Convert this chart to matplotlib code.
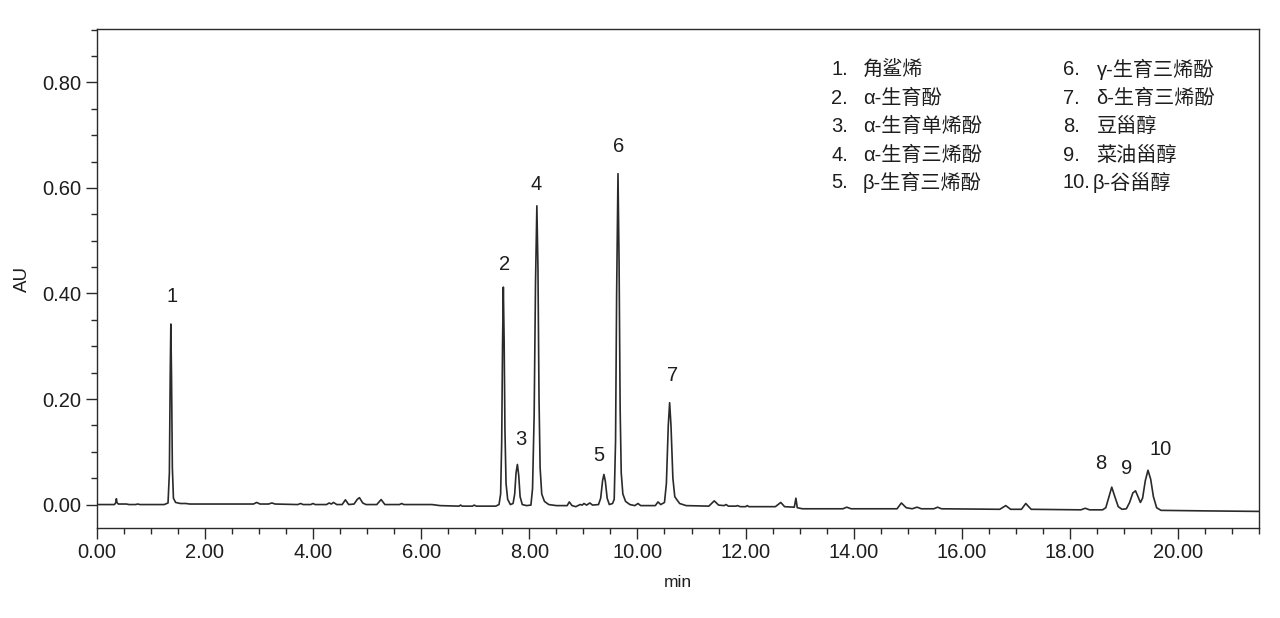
import matplotlib
matplotlib.use("Agg")
import matplotlib.pyplot as plt
from matplotlib.ticker import MultipleLocator, FormatStrFormatter

# chromatogram trace, vertices (min, AU)
trace_min = [
    0.00, 0.33, 0.355, 0.365, 0.375, 0.40, 0.55, 0.60, 0.72, 0.76, 0.80,
    1.25, 1.32, 1.345, 1.36, 1.372, 1.385, 1.40, 1.42, 1.46, 1.55, 1.65, 1.72,
    2.90, 2.96, 3.02, 3.18, 3.24, 3.30, 3.72, 3.77, 3.82, 3.96, 4.00, 4.04,
    4.25, 4.30, 4.34, 4.38, 4.44, 4.54, 4.60, 4.66, 4.76, 4.82, 4.86, 4.92,
    4.98, 5.18, 5.26, 5.33, 5.60, 5.64, 5.68, 6.20, 6.35, 6.70, 6.73, 6.76,
    6.95, 6.98, 7.02, 7.38,
    7.44, 7.47, 7.49, 7.505, 7.52, 7.535, 7.55, 7.57, 7.60, 7.65,
    7.70, 7.73, 7.755, 7.78, 7.805, 7.83, 7.87, 7.95,
    8.03, 8.06, 8.09, 8.115, 8.14, 8.16, 8.18, 8.20, 8.23, 8.28, 8.36, 8.50,
    8.70, 8.74, 8.79, 8.86, 8.94, 8.98, 9.01, 9.06, 9.12, 9.17, 9.28,
    9.32, 9.355, 9.38, 9.405, 9.44, 9.48, 9.54,
    9.57, 9.595, 9.615, 9.64, 9.66, 9.68, 9.70, 9.73, 9.78, 9.86, 9.95,
    10.01, 10.06, 10.33, 10.38, 10.43, 10.50,
    10.535, 10.57, 10.595, 10.62, 10.655, 10.69, 10.73, 10.78, 10.90,
    11.32, 11.42, 11.50, 11.60, 11.64, 11.68, 11.82, 11.85, 11.90, 12.00,
    12.03, 12.06, 12.55, 12.65, 12.72, 12.90, 12.93, 12.955, 13.05, 13.40,
    13.80, 13.87, 13.95, 14.80, 14.88, 14.97, 15.08, 15.17, 15.25, 15.48,
    15.55, 15.62, 16.70, 16.81, 16.90, 17.10, 17.18, 17.28, 18.20, 18.28,
    18.36, 18.60,
    18.66, 18.71, 18.77, 18.83, 18.89, 18.96, 19.04,
    19.10, 19.16, 19.21, 19.26, 19.30,
    19.34, 19.39, 19.44, 19.49, 19.54, 19.60, 19.68, 20.50, 21.50,
]
trace_au = [
    0.000, 0.000, 0.004, 0.011, 0.004, 0.001, 0.001, 0.000, 0.000, 0.001, 0.000,
    0.000, 0.003, 0.060, 0.240, 0.342, 0.240, 0.070, 0.012, 0.004, 0.002, 0.002, 0.001,
    0.001, 0.004, 0.001, 0.001, 0.003, 0.001, 0.000, 0.002, 0.000, 0.000, 0.002, 0.000,
    0.000, 0.003, 0.001, 0.004, 0.000, 0.000, 0.009, 0.000, 0.001, 0.010, 0.013, 0.003,
    0.000, 0.000, 0.0095, 0.000, 0.000, 0.002, 0.000, 0.000, -0.002, -0.003, -0.001, -0.003,
    -0.003, -0.001, -0.003, -0.003,
    0.000, 0.020, 0.120, 0.300, 0.412, 0.310, 0.140, 0.040, 0.010, 0.000,
    0.002, 0.020, 0.060, 0.076, 0.055, 0.015, 0.000, -0.002,
    -0.001, 0.030, 0.170, 0.420, 0.566, 0.450, 0.200, 0.070, 0.020, 0.006, 0.000, -0.002,
    -0.002, 0.005, -0.002, -0.004, 0.000, -0.001, 0.002, -0.001, 0.003, -0.001, 0.000,
    0.012, 0.045, 0.057, 0.045, 0.012, 0.000, 0.002,
    0.010, 0.120, 0.400, 0.627, 0.460, 0.180, 0.060, 0.020, 0.006, 0.000, -0.002,
    0.002, -0.002, -0.002, 0.005, 0.000, 0.004,
    0.040, 0.150, 0.193, 0.150, 0.050, 0.015, 0.009, 0.002, -0.002,
    -0.003, 0.007, -0.001, -0.002, 0.000, -0.003, -0.003, -0.002, -0.004, -0.004,
    -0.002, -0.004, -0.004, 0.004, -0.004, -0.005, 0.012, -0.006, -0.008, -0.008,
    -0.008, -0.005, -0.008, -0.008, 0.003, -0.006, -0.008, -0.005, -0.008, -0.008,
    -0.005, -0.008, -0.009, -0.002, -0.009, -0.009, 0.002, -0.009, -0.010, -0.007,
    -0.010, -0.010,
    -0.006, 0.012, 0.033, 0.014, -0.004, -0.009, -0.008,
    0.004, 0.022, 0.026, 0.014, 0.004,
    0.012, 0.045, 0.065, 0.048, 0.015, -0.006, -0.011, -0.012, -0.013,
]

peak_labels = ["1", "2", "3", "4", "5", "6", "7", "8", "9", "10"]
peak_label_x = [1.40, 7.54, 7.84, 8.12, 9.29, 9.65, 10.65, 18.56, 19.04, 19.67]
peak_label_y = [0.395, 0.454, 0.123, 0.606, 0.093, 0.678, 0.244, 0.078, 0.069, 0.105]

legend_nums = ["1.", "2.", "3.", "4.", "5.", "6.", "7.", "8.", "9.", "10."]
legend_names = [
    "角鲨烯", "α-生育酚", "α-生育单烯酚", "α-生育三烯酚", "β-生育三烯酚",
    "γ-生育三烯酚", "δ-生育三烯酚", "豆甾醇", "菜油甾醇", "β-谷甾醇",
]

fonts = ["Liberation Sans", "Noto Sans CJK SC", "DejaVu Sans"]
plt.rcParams["font.family"] = fonts

ink = "#2a2a2a"
txt = "#1e1e1e"

fig = plt.figure(figsize=(12.8, 6.18), dpi=100)
ax = fig.add_axes([0.0755, 0.146, 0.9084, 0.8065])

ax.plot(trace_min, trace_au, color=ink, linewidth=1.2)

for lab, x, y in zip(peak_labels, peak_label_x, peak_label_y):
    ax.text(x, y, lab, fontsize=14.5, color=txt, ha="center", va="center")

# compound list, two columns of five
row_y = [0.920, 0.862, 0.806, 0.747, 0.692]
for i, (num, name) in enumerate(zip(legend_nums, legend_names)):
    col = i // 5
    y = row_y[i % 5]
    num_x = 0.632 if col == 0 else 0.831
    name_x = 0.659 if col == 0 else (0.857 if num == "10." else 0.860)
    ax.text(num_x, y, num, transform=ax.transAxes, fontsize=14.5,
            color=txt, ha="left", va="center")
    ax.text(name_x, y, name, transform=ax.transAxes, fontsize=14.5,
            color=txt, ha="left", va="center")

ax.set_xlim(0, 21.5)
ax.set_ylim(-0.044, 0.9005)

ax.xaxis.set_major_locator(MultipleLocator(2))
ax.xaxis.set_minor_locator(MultipleLocator(0.5))
ax.xaxis.set_major_formatter(FormatStrFormatter("%.2f"))
ax.yaxis.set_major_locator(MultipleLocator(0.2))
ax.yaxis.set_minor_locator(MultipleLocator(0.05))
ax.yaxis.set_major_formatter(FormatStrFormatter("%.2f"))

ax.tick_params(which="major", direction="out", length=8, width=1,
               color=ink, labelsize=14.5, labelcolor=txt, pad=3)
ax.tick_params(which="minor", direction="out", length=4, width=1, color=ink)

for sp in ax.spines.values():
    sp.set_color(ink)
    sp.set_linewidth(1.0)

ax.set_xlabel("min", fontsize=12.5, color=txt, labelpad=9)
ax.set_ylabel("AU", fontsize=13.5, color=txt, labelpad=8)

fig.savefig("out.png", dpi=100, facecolor="white")
